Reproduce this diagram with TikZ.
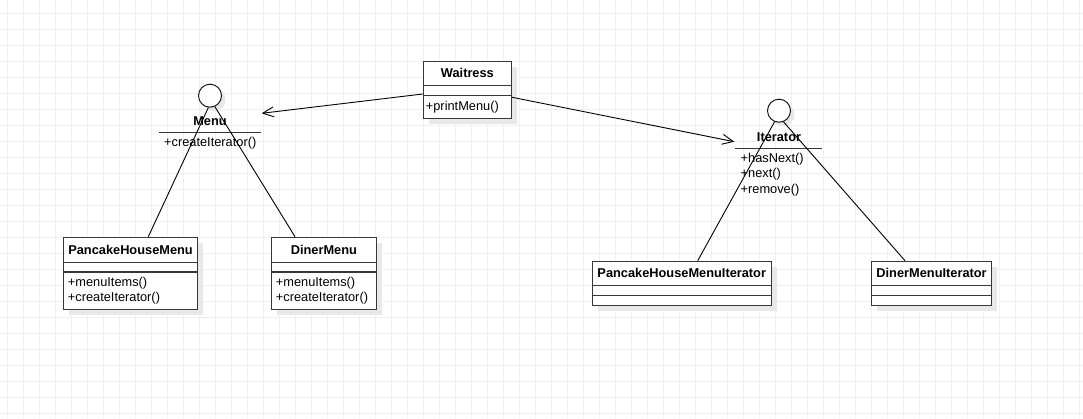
\documentclass[tikz,border=0pt]{standalone}
\usepackage{fontspec}
\setmainfont{Liberation Sans}
\usetikzlibrary{arrows.meta,calc}
\begin{document}
\begin{tikzpicture}[x=1pt,y=-1pt,
  every node/.style={font=\fontsize{12.8}{15.5}\selectfont, inner sep=0pt, text=black},
  umlbox/.style={draw=black!78, line width=1.1pt, fill=white, rectangle, anchor=north west},
  shadowbox/.style={fill=black!9, draw=none},
  iface/.style={draw=black!90, line width=1pt, fill=white, circle, minimum size=23pt},
  cname/.style={font=\fontsize{12.8}{15}\selectfont\bfseries},
  meth/.style={anchor=west, align=left},
  sep/.style={draw=black!78, line width=1.1pt},
  link/.style={draw=black, line width=0.9pt},
  dep/.style={draw=black, line width=0.9pt, -{Straight Barb[length=11pt,width=10pt,line width=0.9pt]}},
  gridline/.style={draw=black!6, line width=1pt}
]
\useasboundingbox (0,0) rectangle (1083,418);
\fill[white] (0,0) rectangle (1083,418);
\foreach \i in {0,...,67} { \draw[gridline] (7+16*\i,0) -- (7+16*\i,418); }
\foreach \j in {0,...,25} { \draw[gridline] (0,13+16*\j) -- (1083,13+16*\j); }

% shadows
\fill[shadowbox] (428.7,66.7) rectangle (517,123.7);
\fill[shadowbox] (68.7,242.7) rectangle (203.3,314.7);
\fill[shadowbox] (276.7,242.7) rectangle (382,314.7);
\fill[shadowbox] (597.7,266.7) rectangle (776.7,311);
\fill[shadowbox] (877,266.7) rectangle (997,311);
\fill[shadowbox] (214,99.7) circle (11.5);
\fill[shadowbox] (783,114.7) circle (11.5);

% interface Menu
\node[iface] (menuC) at (210,95.7) {};
\node[cname] (menuN) at (210,121) {Menu};
\coordinate (menuL) at (159,132.3);
\coordinate (menuR) at (261,132.3);
\draw[sep] (menuL) -- (menuR);
\node[meth] (menuM) at (164,143) {+createIterator()};

% interface Iterator
\node[iface] (iterC) at (779,110.7) {};
\node[cname] (iterN) at (779,137) {Iterator};
\coordinate (iterL) at (735,148.3);
\coordinate (iterR) at (822,148.3);
\draw[sep] (iterL) -- (iterR);
\node[meth] (iterM) at (740.5,174.5) {+hasNext()\\+next()\\+remove()};

% Waitress
\node[umlbox, minimum width=88.3pt, minimum height=57pt] (w) at (422.7,60.7) {};
\draw[sep] ($(w.north west)+(0,25)$) -- ($(w.north east)+(0,25)$);
\draw[sep] ($(w.north west)+(0,35)$) -- ($(w.north east)+(0,35)$);
\node[cname] (wN) at ($(w.north)+(0,12.6)$) {Waitress};
\node[meth] (wM) at ($(w.north west)+(3,46)$) {+printMenu()};

% PancakeHouseMenu
\node[umlbox, minimum width=134.6pt, minimum height=72pt] (phm) at (62.7,236.7) {};
\draw[sep] ($(phm.north west)+(0,25.6)$) -- ($(phm.north east)+(0,25.6)$);
\draw[sep] ($(phm.north west)+(0,35.3)$) -- ($(phm.north east)+(0,35.3)$);
\node[cname] (phmN) at ($(phm.north)+(0,12.8)$) {PancakeHouseMenu};
\node[meth] (phmM) at ($(phm.north west)+(5,53.8)$) {+menuItems()\\+createIterator()};

% DinerMenu
\node[umlbox, minimum width=105.3pt, minimum height=72pt] (dm) at (270.7,236.7) {};
\draw[sep] ($(dm.north west)+(0,25.6)$) -- ($(dm.north east)+(0,25.6)$);
\draw[sep] ($(dm.north west)+(0,35.3)$) -- ($(dm.north east)+(0,35.3)$);
\node[cname] (dmN) at ($(dm.north)+(0,12.8)$) {DinerMenu};
\node[meth] (dmM) at ($(dm.north west)+(5,53.8)$) {+menuItems()\\+createIterator()};

% PancakeHouseMenuIterator
\node[umlbox, minimum width=179pt, minimum height=44.3pt] (phmi) at (591.7,260.7) {};
\draw[sep] ($(phmi.north west)+(0,25)$) -- ($(phmi.north east)+(0,25)$);
\draw[sep] ($(phmi.north west)+(0,35)$) -- ($(phmi.north east)+(0,35)$);
\node[cname] (phmiN) at ($(phmi.north)+(0,12.5)$) {PancakeHouseMenuIterator};

% DinerMenuIterator
\node[umlbox, minimum width=120pt, minimum height=44.3pt] (dmi) at (871,260.7) {};
\draw[sep] ($(dmi.north west)+(0,25)$) -- ($(dmi.north east)+(0,25)$);
\draw[sep] ($(dmi.north west)+(0,35)$) -- ($(dmi.north east)+(0,35)$);
\node[cname] (dmiN) at ($(dmi.north)+(0,12.5)$) {DinerMenuIterator};

% realization links
\draw[link] (menuC.-98) -- ($(phm.north west)+(85.6,0)$);
\draw[link] (menuC.-66) -- ($(dm.north west)+(24.3,0)$);
\draw[link] (iterC.-112) -- ($(phmi.north west)+(106,0)$);
\draw[link] (iterC.-68) -- ($(dmi.north west)+(34,0)$);

% dependencies
\coordinate (menuTip) at ($(menuC)+(51.7,17.6)$);
\coordinate (iterTip) at ($(iterC)+(-44.7,31)$);
\draw[dep] ($(w.north west)+(0,33.3)$) -- (menuTip);
\draw[dep] ($(w.north east)+(0,36.6)$) -- (iterTip);
\end{tikzpicture}
\end{document}
